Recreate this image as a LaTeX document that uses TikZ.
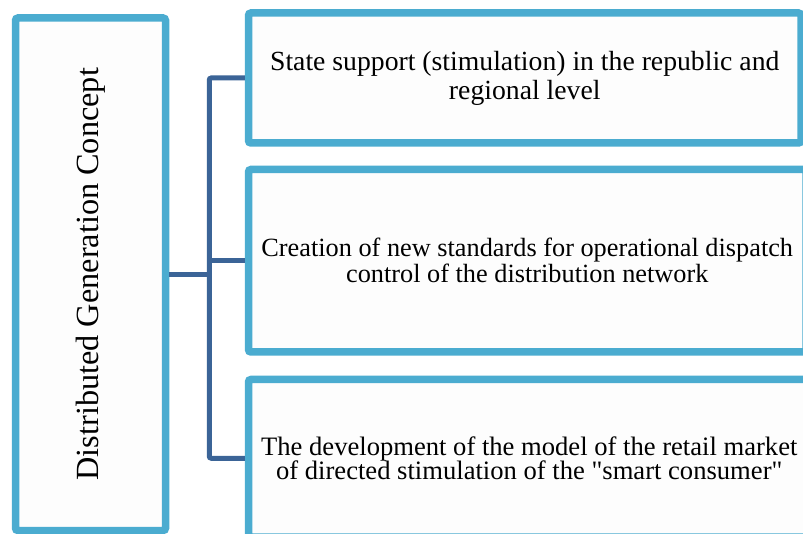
\documentclass[tikz,border=0pt]{standalone}
\usepackage{fontspec}
\setmainfont{Liberation Serif}
\usetikzlibrary{positioning}
\definecolor{FrameBlue}{HTML}{4BACD0}
\definecolor{LinkBlue}{HTML}{3B6497}
\definecolor{PaperWhite}{HTML}{FDFDFD}
\tikzset{
  dgc/frame/.style={
    draw=FrameBlue, line width=7.5pt, fill=PaperWhite,
    rounded corners=2.5pt, inner sep=0pt, align=center
  },
  dgc/concept/.style={dgc/frame},
  dgc/item/.style={dgc/frame, font=\fontsize{27}{28}\selectfont},
  dgc/link/.style={draw=LinkBlue, line width=5pt, rounded corners=2pt}
}

\begin{document}
\begin{tikzpicture}[x=1pt,y=1pt]
  \useasboundingbox (0,0) rectangle (803,533);
  % left column: the concept itself
  \node[dgc/concept, minimum width=150pt, minimum height=512.5pt]
    (concept) at (90.5,258.75) {};
  \node[rotate=90, font=\fontsize{32.3}{36}\selectfont] (title) at (concept.center)
    {Distributed Generation Concept};
  % right column: the three directions
  \node[dgc/item, font=\fontsize{27.7}{29}\selectfont,
        minimum width=552.5pt, minimum height=130pt]
    (box1) at (524.75,455) {State support (stimulation) in the republic and\\regional level};
  \node[dgc/item, font=\fontsize{26.3}{26}\selectfont,
        minimum width=557.5pt, minimum height=182.5pt]
    (box2) at (527.25,272.25) {Creation of new standards for operational dispatch\\control of the distribution network};
  \node[dgc/item, font=\fontsize{26.6}{24.5}\selectfont,
        minimum width=561.5pt, minimum height=157.5pt]
    (box3) at (529.25,74.75) {The development of the model of the retail market\\of directed stimulation of the \textquotedbl smart consumer\textquotedbl};
  % tree connectors
  \coordinate[right=40pt of concept.east] (fork);
  \draw[dgc/link] (concept.east) -- (fork);
  \draw[dgc/link] (box1.west) -| (fork) |- (box3.west);
  \draw[dgc/link] (fork |- box2.west) -- (box2.west);
\end{tikzpicture}
\end{document}
